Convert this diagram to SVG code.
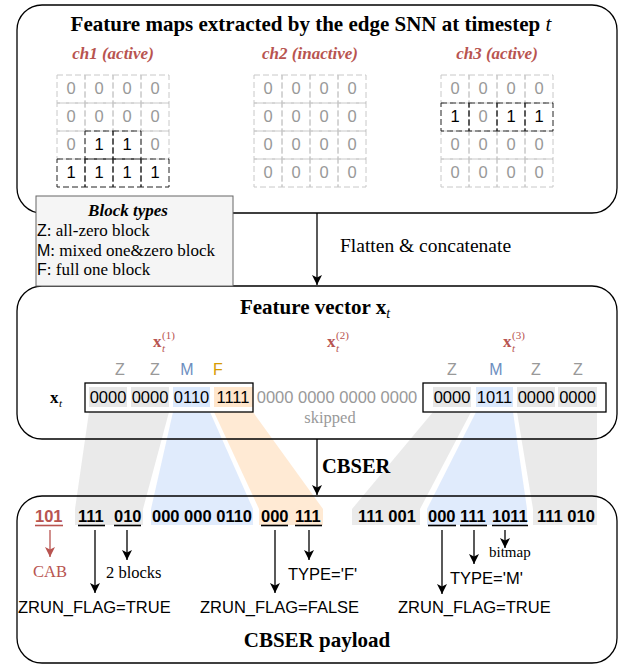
<svg xmlns="http://www.w3.org/2000/svg" width="633" height="669" viewBox="0 0 633 669">
  <style>
    .frame{fill:#fff;stroke:none}
    .edge{fill:none;stroke:#000;stroke-width:1.3}
    .ttl{font-family:"Liberation Serif",serif;font-weight:bold;font-size:21px;text-anchor:middle;fill:#000}
    .ch{font-family:"Liberation Serif",serif;font-weight:bold;font-style:italic;font-size:17px;fill:#b85450;text-anchor:middle}
    .cell{fill:none;stroke:#c8c8c8;stroke-width:1;stroke-dasharray:6 3}
    .cell.on{stroke:#222}
    .g0{font-family:"Liberation Sans",sans-serif;font-size:16.5px;fill:#999;text-anchor:middle}
    .g1{font-family:"Liberation Sans",sans-serif;font-size:16.5px;fill:#000;text-anchor:middle}
    .serif{font-family:"Liberation Serif",serif;fill:#000}
    .sans{font-family:"Liberation Sans",sans-serif}
    .lbl{font-family:"Liberation Sans",sans-serif;font-size:16px;text-anchor:middle}
    .z{fill:#999}.m{fill:#6c8ebf}.f{fill:#d79b00}
    .bit{font-family:"Liberation Sans",sans-serif;font-size:16.5px;text-anchor:middle;fill:#000}
    .pay{font-family:"Liberation Sans",sans-serif;font-weight:bold;font-size:16.5px;fill:#000}
    .ul{stroke:#000;stroke-width:1.6}
    .bgz{fill:#e6e6e6}.bgm{fill:#dae8fc}.bgf{fill:#ffe6cc}
    .bandz{fill:#e6e6e6;opacity:0.85}.bandm{fill:#dae8fc;opacity:0.85}.bandf{fill:#ffe6cc;opacity:0.85}
    .red{fill:#b85450}
    .arr{fill:none;stroke:#000;stroke-width:1.3}
    .arr.r{stroke:#b85450}
  </style>
  <defs>
    <marker id="ah" viewBox="0 0 10 10" refX="10" refY="5" markerWidth="10" markerHeight="10" orient="auto" markerUnits="userSpaceOnUse">
      <path d="M0,0 L10,5 L0,10 L2.5,5 z" fill="#000"/>
    </marker>
    <marker id="ahr" viewBox="0 0 10 10" refX="10" refY="5" markerWidth="10" markerHeight="10" orient="auto" markerUnits="userSpaceOnUse">
      <path d="M0,0 L10,5 L0,10 L2.5,5 z" fill="#b85450"/>
    </marker>
  </defs>

  <!-- container backgrounds -->
  <rect class="frame" x="17" y="5" width="600" height="208" rx="25"/>
  <rect class="frame" x="17" y="286" width="600" height="153" rx="25"/>
  <rect class="frame" x="17" y="496" width="600" height="167" rx="25"/>

  <!-- bands linking vector blocks to payload fields -->
  <g id="bands">
    <path class="bandz" d="M89,412 L169,412 L143,509 L143,525 L75,525 L75,509 Z"/>
    <path class="bandm" d="M173,412 L210,412 L253,509 L253,525 L151,525 L151,509 Z"/>
    <path class="bandf" d="M214,412 L253,412 L323,509 L323,525 L259,525 L259,509 Z"/>
    <path class="bandz" d="M433,412 L471,412 L420,509 L420,525 L352,525 L352,509 Z"/>
    <path class="bandm" d="M476,412 L513,412 L527,509 L527,525 L427,525 L427,509 Z"/>
    <path class="bandz" d="M517,412 L597,412 L597,525 L533,525 L533,509 Z"/>
  </g>

  <!-- container outlines -->
  <rect class="edge" x="17" y="5" width="600" height="208" rx="25"/>
  <rect class="edge" x="17" y="286" width="600" height="153" rx="25"/>
  <rect class="edge" x="17" y="496" width="600" height="167" rx="25"/>

  <!-- feature maps -->
  <g id="feature-maps">
    <text class="ttl" x="311" y="31">Feature maps extracted by the edge SNN at timestep <tspan font-style="italic" font-weight="normal">t</tspan></text>
    <text class="ch" x="113" y="59">ch1 (active)</text>
    <text class="ch" x="310" y="59">ch2 (inactive)</text>
    <text class="ch" x="497" y="59">ch3 (active)</text>

    <g id="ch1">
      <rect class="cell" x="57" y="75" width="28" height="28"/><rect class="cell" x="85" y="75" width="28" height="28"/><rect class="cell" x="113" y="75" width="28" height="28"/><rect class="cell" x="141" y="75" width="28" height="28"/>
      <rect class="cell" x="57" y="103" width="28" height="28"/><rect class="cell" x="85" y="103" width="28" height="28"/><rect class="cell" x="113" y="103" width="28" height="28"/><rect class="cell" x="141" y="103" width="28" height="28"/>
      <rect class="cell" x="57" y="131" width="28" height="28"/><rect class="cell" x="141" y="131" width="28" height="28"/>
      <rect class="cell on" x="85" y="131" width="28" height="28"/><rect class="cell on" x="113" y="131" width="28" height="28"/>
      <rect class="cell on" x="57" y="159" width="28" height="28"/><rect class="cell on" x="85" y="159" width="28" height="28"/><rect class="cell on" x="113" y="159" width="28" height="28"/><rect class="cell on" x="141" y="159" width="28" height="28"/>
      <text class="g0" x="71" y="94">0</text><text class="g0" x="99" y="94">0</text><text class="g0" x="127" y="94">0</text><text class="g0" x="155" y="94">0</text>
      <text class="g0" x="71" y="122">0</text><text class="g0" x="99" y="122">0</text><text class="g0" x="127" y="122">0</text><text class="g0" x="155" y="122">0</text>
      <text class="g0" x="71" y="150">0</text><text class="g1" x="99" y="150">1</text><text class="g1" x="127" y="150">1</text><text class="g0" x="155" y="150">0</text>
      <text class="g1" x="71" y="178">1</text><text class="g1" x="99" y="178">1</text><text class="g1" x="127" y="178">1</text><text class="g1" x="155" y="178">1</text>
    </g>

    <g id="ch2">
      <rect class="cell" x="254" y="75" width="28" height="28"/><rect class="cell" x="282" y="75" width="28" height="28"/><rect class="cell" x="310" y="75" width="28" height="28"/><rect class="cell" x="338" y="75" width="28" height="28"/>
      <rect class="cell" x="254" y="103" width="28" height="28"/><rect class="cell" x="282" y="103" width="28" height="28"/><rect class="cell" x="310" y="103" width="28" height="28"/><rect class="cell" x="338" y="103" width="28" height="28"/>
      <rect class="cell" x="254" y="131" width="28" height="28"/><rect class="cell" x="282" y="131" width="28" height="28"/><rect class="cell" x="310" y="131" width="28" height="28"/><rect class="cell" x="338" y="131" width="28" height="28"/>
      <rect class="cell" x="254" y="159" width="28" height="28"/><rect class="cell" x="282" y="159" width="28" height="28"/><rect class="cell" x="310" y="159" width="28" height="28"/><rect class="cell" x="338" y="159" width="28" height="28"/>
      <text class="g0" x="268" y="94">0</text><text class="g0" x="296" y="94">0</text><text class="g0" x="324" y="94">0</text><text class="g0" x="352" y="94">0</text>
      <text class="g0" x="268" y="122">0</text><text class="g0" x="296" y="122">0</text><text class="g0" x="324" y="122">0</text><text class="g0" x="352" y="122">0</text>
      <text class="g0" x="268" y="150">0</text><text class="g0" x="296" y="150">0</text><text class="g0" x="324" y="150">0</text><text class="g0" x="352" y="150">0</text>
      <text class="g0" x="268" y="178">0</text><text class="g0" x="296" y="178">0</text><text class="g0" x="324" y="178">0</text><text class="g0" x="352" y="178">0</text>
    </g>

    <g id="ch3">
      <rect class="cell" x="441" y="75" width="28" height="28"/><rect class="cell" x="469" y="75" width="28" height="28"/><rect class="cell" x="497" y="75" width="28" height="28"/><rect class="cell" x="525" y="75" width="28" height="28"/>
      <rect class="cell" x="441" y="131" width="28" height="28"/><rect class="cell" x="469" y="131" width="28" height="28"/><rect class="cell" x="497" y="131" width="28" height="28"/><rect class="cell" x="525" y="131" width="28" height="28"/>
      <rect class="cell" x="441" y="159" width="28" height="28"/><rect class="cell" x="469" y="159" width="28" height="28"/><rect class="cell" x="497" y="159" width="28" height="28"/><rect class="cell" x="525" y="159" width="28" height="28"/>
      <rect class="cell on" x="469" y="103" width="28" height="28"/>
      <rect class="cell on" x="441" y="103" width="28" height="28"/><rect class="cell on" x="497" y="103" width="28" height="28"/><rect class="cell on" x="525" y="103" width="28" height="28"/>
      <text class="g0" x="455" y="94">0</text><text class="g0" x="483" y="94">0</text><text class="g0" x="511" y="94">0</text><text class="g0" x="539" y="94">0</text>
      <text class="g1" x="455" y="122">1</text><text class="g0" x="483" y="122">0</text><text class="g1" x="511" y="122">1</text><text class="g1" x="539" y="122">1</text>
      <text class="g0" x="455" y="150">0</text><text class="g0" x="483" y="150">0</text><text class="g0" x="511" y="150">0</text><text class="g0" x="539" y="150">0</text>
      <text class="g0" x="455" y="178">0</text><text class="g0" x="483" y="178">0</text><text class="g0" x="511" y="178">0</text><text class="g0" x="539" y="178">0</text>
    </g>
  </g>

  <!-- legend -->
  <g id="legend">
    <rect x="36" y="196" width="197" height="90" fill="#f5f5f5" stroke="#666" stroke-width="1"/>
    <text class="serif" x="128" y="216" text-anchor="middle" font-size="17" font-weight="bold" font-style="italic">Block types</text>
    <text class="serif" x="37" y="236" font-size="17"><tspan class="sans" font-size="16">Z</tspan>: all-zero block</text>
    <text class="serif" x="37" y="256" font-size="17"><tspan class="sans" font-size="16">M</tspan>: mixed one&amp;zero block</text>
    <text class="serif" x="37" y="275" font-size="17"><tspan class="sans" font-size="16">F</tspan>: full one block</text>
  </g>

  <!-- feature vector -->
  <g id="feature-vector">
    <text class="ttl" x="315" y="314">Feature vector x<tspan font-style="italic" font-weight="normal" font-size="14" dy="4">t</tspan></text>

    <text class="serif red" x="153" y="347" font-size="17" font-weight="bold">x</text>
    <text class="serif red" x="162" y="339" font-size="11">(1)</text>
    <text class="serif red" x="162" y="352" font-size="11" font-style="italic">t</text>
    <text class="serif red" x="327" y="347" font-size="17" font-weight="bold">x</text>
    <text class="serif red" x="336" y="339" font-size="11">(2)</text>
    <text class="serif red" x="336" y="352" font-size="11" font-style="italic">t</text>
    <text class="serif red" x="503" y="347" font-size="17" font-weight="bold">x</text>
    <text class="serif red" x="512" y="339" font-size="11">(3)</text>
    <text class="serif red" x="512" y="352" font-size="11" font-style="italic">t</text>

    <text class="lbl z" x="120" y="375">Z</text>
    <text class="lbl z" x="155" y="375">Z</text>
    <text class="lbl m" x="187" y="375">M</text>
    <text class="lbl f" x="218" y="375">F</text>
    <text class="lbl z" x="452" y="375">Z</text>
    <text class="lbl m" x="496" y="375">M</text>
    <text class="lbl z" x="536" y="375">Z</text>
    <text class="lbl z" x="578" y="375">Z</text>

    <text class="serif" x="50" y="403" font-size="17" font-weight="bold">x</text>
    <text class="serif" x="59" y="407" font-size="11" font-style="italic">t</text>

    <rect class="bgz" x="89" y="387" width="38" height="20"/>
    <rect class="bgz" x="131" y="387" width="38" height="20"/>
    <rect class="bgm" x="173" y="387" width="37" height="20"/>
    <rect class="bgf" x="214" y="387" width="39" height="20"/>
    <rect class="bgz" x="433" y="387" width="38" height="20"/>
    <rect class="bgm" x="476" y="387" width="37" height="20"/>
    <rect class="bgz" x="517" y="387" width="38" height="20"/>
    <rect class="bgz" x="558" y="387" width="39" height="20"/>

    <rect class="edge" x="85" y="383" width="168" height="29"/>
    <rect class="edge" x="423" y="383" width="183" height="29"/>

    <text class="bit" x="108" y="403">0000</text>
    <text class="bit" x="150" y="403">0000</text>
    <text class="bit" x="191.5" y="403">0110</text>
    <text class="bit" x="233" y="403">1111</text>
    <text class="bit" x="337" y="403" style="fill:#999">0000 0000 0000 0000</text>
    <text class="bit" x="452" y="403">0000</text>
    <text class="bit" x="494.5" y="403">1011</text>
    <text class="bit" x="536" y="403">0000</text>
    <text class="bit" x="577.5" y="403">0000</text>

    <text class="serif" x="330" y="423" font-size="16.5" text-anchor="middle" style="fill:#999">skipped</text>
  </g>

  <!-- payload -->
  <g id="payload">
    <text class="pay" x="35" y="522" style="fill:#b85450">101</text>
    <text class="pay" x="78" y="522">111</text>
    <text class="pay" x="114" y="522">010</text>
    <text class="pay" x="152" y="522">000 000 0110</text>
    <text class="pay" x="261" y="522">000</text>
    <text class="pay" x="295" y="522">111</text>
    <text class="pay" x="358" y="522">111 001</text>
    <text class="pay" x="428" y="522">000</text>
    <text class="pay" x="460" y="522">111</text>
    <text class="pay" x="492" y="522">1011</text>
    <text class="pay" x="537" y="522">111 010</text>

    <line class="ul" x1="35" y1="525.5" x2="63" y2="525.5" style="stroke:#b85450"/>
    <line class="ul" x1="78" y1="525.5" x2="105" y2="525.5"/>
    <line class="ul" x1="114" y1="525.5" x2="141" y2="525.5"/>
    <line class="ul" x1="261" y1="525.5" x2="288" y2="525.5"/>
    <line class="ul" x1="295" y1="525.5" x2="322" y2="525.5"/>
    <line class="ul" x1="428" y1="525.5" x2="456" y2="525.5"/>
    <line class="ul" x1="460" y1="525.5" x2="487" y2="525.5"/>
    <line class="ul" x1="492" y1="525.5" x2="528" y2="525.5"/>

    <text class="serif" x="33" y="577" font-size="16.5" style="fill:#b85450">CAB</text>
    <text class="serif" x="106" y="578" font-size="16.5">2 blocks</text>
    <text class="sans" x="18" y="613" font-size="16.5">ZRUN_FLAG=TRUE</text>
    <text class="sans" x="288" y="580" font-size="16.5">TYPE='F'</text>
    <text class="sans" x="200" y="613" font-size="16.5">ZRUN_FLAG=FALSE</text>
    <text class="serif" x="489" y="557" font-size="15">bitmap</text>
    <text class="sans" x="450" y="584" font-size="16.5">TYPE='M'</text>
    <text class="sans" x="398" y="613" font-size="16.5">ZRUN_FLAG=TRUE</text>

    <text class="ttl" x="317" y="647">CBSER payload</text>
  </g>

  <!-- connectors -->
  <g id="connectors">
    <line class="arr" x1="317" y1="213" x2="317" y2="285" marker-end="url(#ah)"/>
    <text class="serif" x="340" y="252" font-size="19.5">Flatten &amp; concatenate</text>
    <line class="arr" x1="317" y1="439" x2="317" y2="495" marker-end="url(#ah)"/>
    <text class="serif" x="322" y="473" font-size="20.5" font-weight="bold">CBSER</text>

    <line class="arr r" x1="50" y1="530" x2="50" y2="557" marker-end="url(#ahr)"/>
    <line class="arr" x1="95" y1="530" x2="95" y2="593" marker-end="url(#ah)"/>
    <line class="arr" x1="127" y1="530" x2="127" y2="560" marker-end="url(#ah)"/>
    <line class="arr" x1="275" y1="530" x2="275" y2="593" marker-end="url(#ah)"/>
    <line class="arr" x1="309" y1="530" x2="309" y2="560" marker-end="url(#ah)"/>
    <line class="arr" x1="442" y1="530" x2="442" y2="594" marker-end="url(#ah)"/>
    <line class="arr" x1="474" y1="530" x2="474" y2="564" marker-end="url(#ah)"/>
    <line class="arr" x1="505" y1="530" x2="505" y2="548" marker-end="url(#ah)"/>
  </g>
</svg>
